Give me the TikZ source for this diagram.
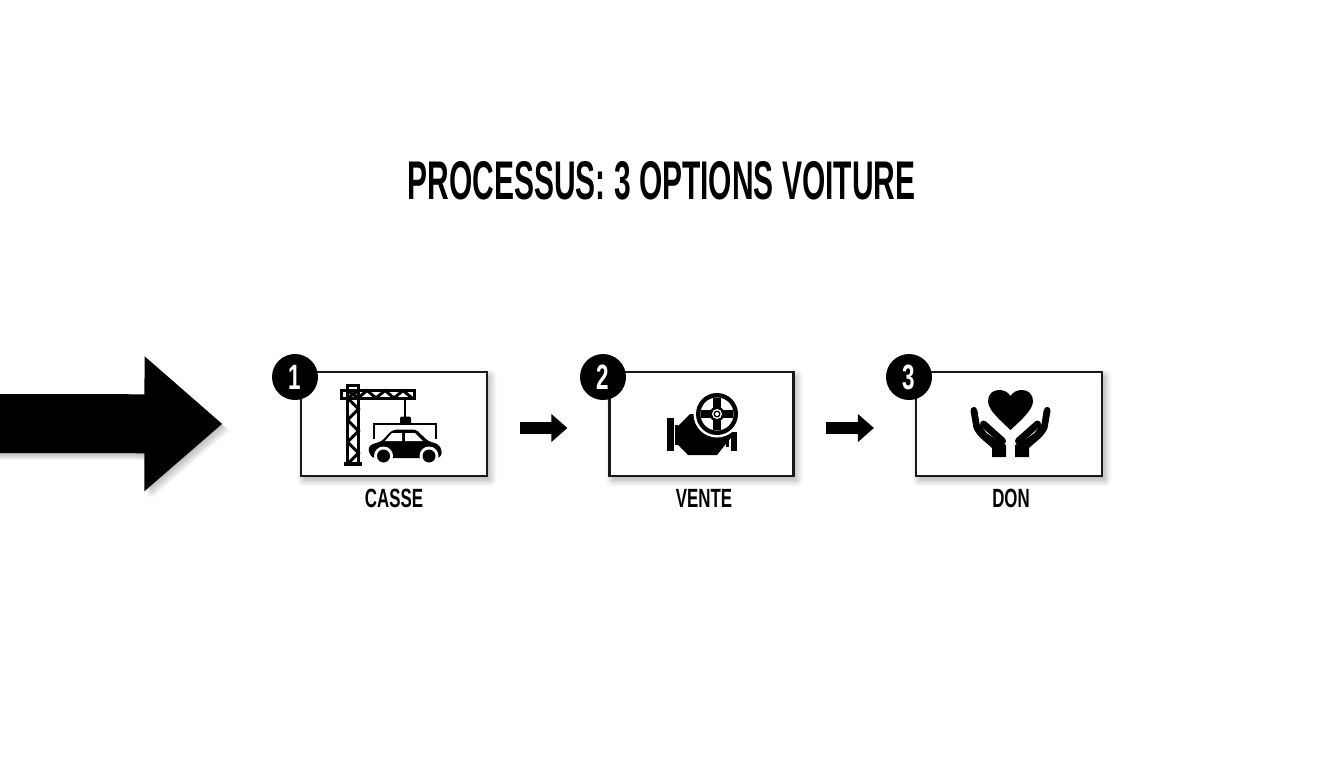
\documentclass[tikz,border=0pt]{standalone}
\usepackage{fontspec}
\usetikzlibrary{arrows.meta,shadows.blur}

\newfontfamily\condfont[FakeStretch=0.64]{Liberation Sans}
\newfontfamily\titlefont[FakeStretch=0.55]{Liberation Sans}

\tikzset{
    optbox/.style={draw=black!90, fill=white, line width=0.045cm, minimum height=2.08cm,
        blur shadow={shadow xshift=0.06cm, shadow yshift=-0.08cm, shadow blur radius=0.14cm, shadow blur steps=12, shadow opacity=35}},
    numdot/.style={circle, fill=black, text=white, minimum size=0.92cm, inner sep=0pt,
        font=\condfont\bfseries\fontsize{20}{22}\selectfont},
    optlabel/.style={font=\condfont\bfseries\fontsize{15}{16}\selectfont},
    steparrow/.style={-{Triangle[length=0.32cm,width=0.54cm]}, line width=0.25cm, shorten <=0.63cm, shorten >=0.82cm},
    bigarrow/.style={-{Triangle[length=1.56cm,width=2.6cm]}, line width=1.18cm, shorten >=1.55cm},
    latticeline/.style={line width=0.06cm},
    hoistline/.style={line width=0.04cm}
}

\begin{document}
\begin{tikzpicture}[x=0.02cm,y=-0.02cm]

\useasboundingbox (0,0) rectangle (1344,768);

\coordinate (inlet) at (-20,423.5);

\node [font=\titlefont\bfseries\fontsize{31}{34}\selectfont] (title) at (661.5,181) {PROCESSUS: 3 OPTIONS VOITURE};

\foreach \i/\x/\w/\lx/\cx/\lab in {1/394/3.72/394/295/CASSE,2/701.5/3.68/704/603/VENTE,3/1009/3.72/1011/909/DON} {
    \node [optbox, minimum width=\w cm] (box\i) at (\x,424) {};
    \node [numdot] (num\i) at (\cx,377) {\i};
    \node [optlabel] (label\i) at (\lx,498) {\lab};
}

\foreach \i/\j in {1/2,2/3}
    \draw [steparrow] ([yshift=-0.08cm]box\i.east) -- ([yshift=-0.08cm]box\j.west);

% soft edge of the big arrow
\foreach \d in {1,2,...,7}
    \draw [bigarrow, black, opacity=0.04, transform canvas={xshift=\d*0.02cm, yshift=-\d*0.02cm}] (inlet) -- (box1.west);
\draw [bigarrow] (inlet) -- (box1.west);

% crane
\draw [latticeline] (347.5,385) rectangle (358.5,463);
\draw [line width=0.07cm] (344,464) -- (362,464);
\draw [latticeline] (341,390.5) rectangle (414,398);
\draw [latticeline] (347.5,390.5) -- (358.5,398) (347.5,398) -- (358.5,390.5);
\foreach \y in {398,420,442}
    \draw [latticeline] (347.5,\y) -- (358.5,\y+11) -- (347.5,\y+22);
\foreach \x in {358,376,394}
    \draw [latticeline] (\x,398) -- (\x+9,390.5) -- (\x+18,398);
\draw [hoistline] (405,398) -- (405,418);
\fill [rounded corners=0.04cm] (400,416.5) rectangle (411,424.5);
\draw [hoistline] (374,439) -- (374,424) -- (436,424) -- (436,439);

% car
\fill [rounded corners=0.06cm] (372,458) -- (368,450) -- (370,445) -- (382,441) -- (391,431) -- (396,429.5)
    -- (416,429.5) -- (428,441) -- (438,444) -- (442,450) -- (441,457) -- (436,458) -- cycle;
\fill [white] (385,441) -- (392,433) -- (402,433) -- (402,441) -- cycle;
\fill [white] (405,433) -- (415,433) -- (423,441) -- (405,441) -- cycle;
\foreach \x in {383.5,429} {
    \fill [white] (\x,456) circle (0.19cm);
    \fill (\x,456) circle (0.13cm);
}

% valve
\fill (667,418) rectangle (674,451);
\fill (675,425) rectangle (678,445);
\fill (678,426) -- (690,414) -- (700,414) -- (735,433) -- (725,445) -- (717,455) -- (688,455) -- (678,445) -- cycle;
\fill (726,436) rectangle (729,447);
\fill (731,432) rectangle (737,451);
\fill [white] (717,414) circle (0.47cm);
\fill (717,414) circle (0.42cm);
\fill [white] (717,414) circle (0.33cm);
\draw [line width=0.16cm] (717,398) -- (717,430) (701,414) -- (733,414);
\fill (717,414) circle (0.15cm);
\fill [white] (717,414) circle (0.1cm);
\fill (717,414) circle (0.07cm);
\fill [white] (717,414) circle (0.04cm);

% heart and hands
\fill (1010.5,430) .. controls (1000,420) and (988,410) .. (988,401) .. controls (988,394) and (993,390) .. (999,390)
    .. controls (1004,390) and (1008,392) .. (1010.5,396) .. controls (1013,392) and (1017,390) .. (1022,390)
    .. controls (1028,390) and (1033,394) .. (1033,401) .. controls (1033,410) and (1021,420) .. (1010.5,430) -- cycle;
\foreach \s in {1,-1} {
    \begin{scope} [shift={(1010.5,0)}, xscale=\s]
    \fill (-18.5,457) -- (-18.5,448) .. controls (-26,441) and (-34,436) .. (-37,428) -- (-40,411)
        .. controls (-40,406) and (-34,405) .. (-33,411) -- (-31,424) -- (-24,433) -- (-14,440) -- (-4.5,445) -- (-4.5,457) -- cycle;
    \draw [line width=0.14cm, line cap=round] (-27,424) -- (-8,441);
    \end{scope}
}

\end{tikzpicture}
\end{document}
